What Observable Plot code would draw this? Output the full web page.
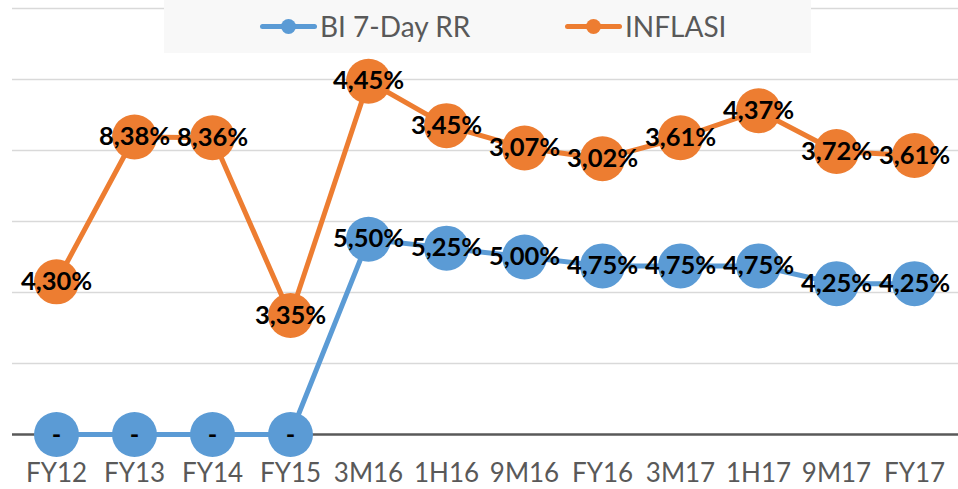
<!DOCTYPE html>
<html><head><meta charset="utf-8">
<script src="https://cdn.jsdelivr.net/npm/d3@7"></script>
<script src="https://cdn.jsdelivr.net/npm/@observablehq/plot@0.6"></script>
<style>
body{margin:0;background:#fff;}
#wrap{position:relative;width:958px;height:489px;}
#legend{position:absolute;left:164px;top:0;width:647px;height:53px;background:#f8f8f8;z-index:2;font-family:Lato,sans-serif;color:#595959;font-size:28px;}
.item{position:absolute;top:0;height:53px;}
.sw{position:absolute;top:24px;width:57px;height:5px;border-radius:3px;}
.mk{position:absolute;top:19px;width:15px;height:15px;border-radius:50%;}
.lab{position:absolute;top:8px;line-height:36px;white-space:nowrap;}
</style></head><body>
<div id="wrap"><div id="legend"></div><div id="chart"></div></div>
<script>
const categories = ["FY12","FY13","FY14","FY15","3M16","1H16","9M16","FY16","3M17","1H17","9M17","FY17"];
const biRate = [0,0,0,0,5.50,5.25,5.00,4.75,4.75,4.75,4.25,4.25];
const inflation = [4.30,8.38,8.36,3.35,4.45,3.45,3.07,3.02,3.61,4.37,3.72,3.61];
const yTicks = [0,2,4,6,8,10,12];
const seriesNames = ["BI 7-Day RR","INFLASI"];
const seriesColors = ["#5B9BD5","#ED7D31"];

const fmt = v => v === 0 ? "-" : v.toFixed(2).replace(".", ",") + "%";
const rows = [];
[biRate, inflation].forEach((vals, s) => {
  vals.forEach((v, i) => rows.push({cat: categories[i], series: seriesNames[s], value: v, label: fmt(v)}));
});

// legend
const legend = document.getElementById("legend");
const legendX = [96, 401];
seriesNames.forEach((name, i) => {
  const it = document.createElement("div");
  it.className = "item";
  it.style.left = legendX[i] + "px";
  it.innerHTML = `<div class="sw" style="left:0;background:${seriesColors[i]}"></div>` +
    `<div class="mk" style="left:21px;background:${seriesColors[i]}"></div>` +
    `<div class="lab" style="left:60px">${name}</div>`;
  legend.appendChild(it);
});

const stack = {x: "cat", y: "value", z: "series", order: null};
const chart = Plot.plot({
  width: 958,
  height: 489,
  marginTop: 8,
  marginBottom: 55,
  marginLeft: 12,
  marginRight: 0,
  style: {fontFamily: "Lato, sans-serif", background: "#fff", overflow: "visible"},
  x: {type: "point", domain: categories, padding: 0.5},
  y: {domain: [0, 12], axis: null},
  color: {domain: seriesNames, range: seriesColors},
  marks: [
    Plot.ruleY(yTicks.filter(d => d > 0), {stroke: "#d9d9d9", strokeWidth: 1.5}),
    Plot.ruleY([0], {stroke: "#595959", strokeWidth: 2.5}),
    Plot.axisX({tickSize: 0, tickPadding: 29, fontSize: 26, fill: "#595959", label: null}),
    Plot.lineY(rows, Plot.stackY2({...stack, stroke: "series", strokeWidth: 5})),
    Plot.dot(rows, Plot.stackY2({...stack, fill: "series", r: 22.5, stroke: null})),
    Plot.text(rows, Plot.stackY2({...stack, text: "label", fill: "#000", fontWeight: "bold", fontSize: 25.5}))
  ]
});
document.getElementById("chart").appendChild(chart);
</script>
</body></html>
